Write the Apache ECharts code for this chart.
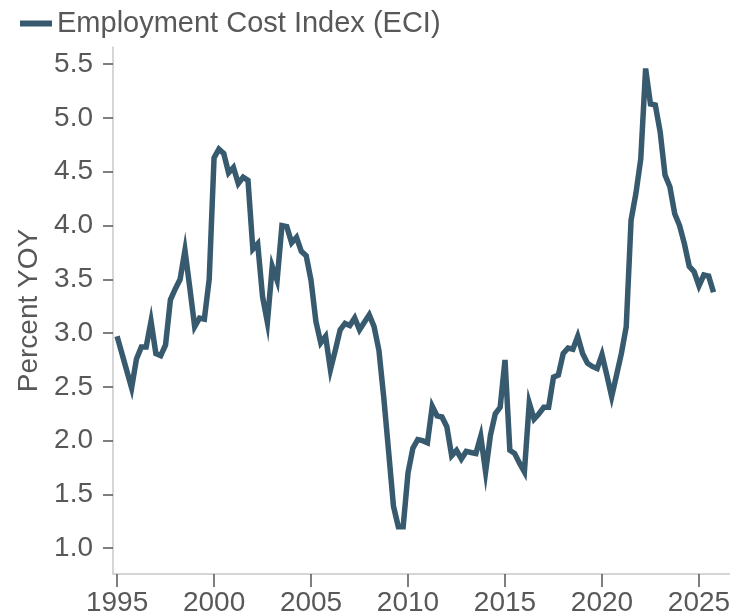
<!DOCTYPE html>
<html>
<head>
<meta charset="utf-8">
<script src="https://cdn.jsdelivr.net/npm/echarts@6/dist/echarts.min.js"></script>
<style>
  html, body { margin: 0; padding: 0; background: #ffffff; }
  #chart { width: 730px; height: 611px; }
</style>
</head>
<body>
<div id="chart"></div>
<script>
// Employment Cost Index, percent change year over year, quarterly from 1995 Q1
const seriesName = 'Employment Cost Index (ECI)';
const firstYear = 1995;
const eciYoY = [
  2.97, 2.81, 2.65, 2.49, 2.76, 2.87, 2.87, 3.11, 2.81, 2.79,
  2.89, 3.31, 3.41, 3.50, 3.77, 3.42, 3.06, 3.14, 3.13, 3.50,
  4.63, 4.71, 4.67, 4.49, 4.54, 4.39, 4.45, 4.42, 3.78, 3.83,
  3.34, 3.10, 3.62, 3.49, 4.00, 3.99, 3.84, 3.89, 3.76, 3.72,
  3.49, 3.11, 2.91, 2.97, 2.66, 2.84, 3.03, 3.09, 3.07, 3.14,
  3.03, 3.10, 3.17, 3.06, 2.84, 2.40, 1.90, 1.39, 1.20, 1.20,
  1.70, 1.93, 2.01, 2.00, 1.98, 2.32, 2.23, 2.22, 2.13, 1.86,
  1.91, 1.83, 1.90, 1.89, 1.88, 2.04, 1.71, 2.05, 2.25, 2.31,
  2.75, 1.91, 1.88, 1.79, 1.71, 2.35, 2.20, 2.25, 2.31, 2.31,
  2.59, 2.61, 2.81, 2.86, 2.85, 2.97, 2.81, 2.72, 2.69, 2.67,
  2.80, 2.61, 2.41, 2.61, 2.81, 3.06, 4.05, 4.30, 4.62, 5.46,
  5.13, 5.12, 4.87, 4.47, 4.36, 4.11, 4.00, 3.83, 3.62, 3.57,
  3.44, 3.54, 3.53, 3.38
];
const yearTicks = [1995, 2000, 2005, 2010, 2015, 2020, 2025];
const percentTicks = [1.0, 1.5, 2.0, 2.5, 3.0, 3.5, 4.0, 4.5, 5.0, 5.5];

const points = eciYoY.map((v, i) => [firstYear + i / 4, v]);

const font = 'Liberation Sans, Arial, Helvetica, sans-serif';
const textColor = '#585858';
const lineColor = '#375a6f';

const chart = echarts.init(document.getElementById('chart'), null, { renderer: 'canvas' });
chart.setOption({
  animation: false,
  backgroundColor: '#ffffff',
  textStyle: { fontFamily: font },
  legend: {
    left: 15,
    top: 4,
    icon: 'rect',
    itemWidth: 32,
    itemHeight: 6,
    itemGap: 5,
    textStyle: { fontSize: 29, color: textColor, fontFamily: font },
    data: [seriesName]
  },
  grid: {
    left: 113,
    right: 0,
    top: 47,
    bottom: 37,
    containLabel: false,
    outerBoundsMode: 'none'
  },
  xAxis: {
    type: 'value',
    min: 1994.79,
    max: 2026.6,
    splitLine: { show: false },
    axisLine: { show: true, lineStyle: { color: '#c8c8c8', width: 1.5 } },
    axisTick: {
      show: true,
      length: 13,
      customValues: yearTicks,
      lineStyle: { color: '#555555', width: 1.5 }
    },
    axisLabel: {
      customValues: yearTicks,
      formatter: v => String(Math.round(v)),
      fontSize: 28,
      color: textColor,
      margin: 15,
      fontFamily: font
    }
  },
  yAxis: {
    type: 'value',
    min: 0.76,
    max: 5.66,
    name: 'Percent YOY',
    nameLocation: 'middle',
    nameGap: 62,
    nameTextStyle: { fontSize: 28, color: textColor, fontFamily: font },
    splitLine: { show: false },
    axisLine: { show: true, lineStyle: { color: '#c8c8c8', width: 1.5 } },
    axisTick: {
      show: true,
      length: 10,
      customValues: percentTicks,
      lineStyle: { color: '#555555', width: 1.5 }
    },
    axisLabel: {
      customValues: percentTicks,
      formatter: v => v.toFixed(1),
      fontSize: 28,
      color: textColor,
      margin: 20,
      fontFamily: font
    }
  },
  series: [{
    name: seriesName,
    type: 'line',
    data: points,
    showSymbol: false,
    symbol: 'none',
    lineStyle: { color: lineColor, width: 5.5, join: 'miter' },
    itemStyle: { color: lineColor }
  }]
});
</script>
</body>
</html>
